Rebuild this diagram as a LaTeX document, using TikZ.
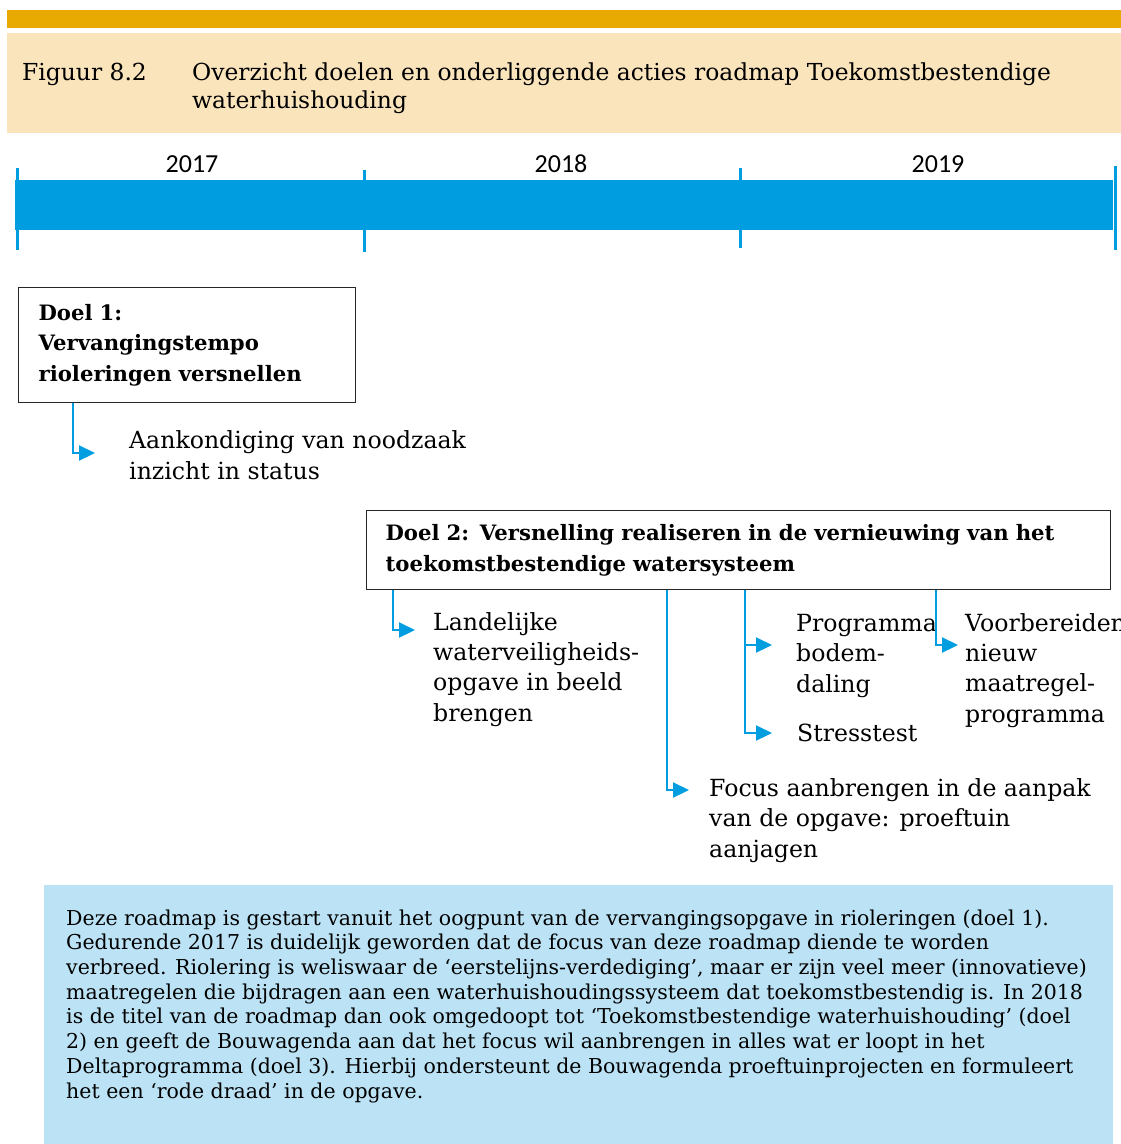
\documentclass[tikz,border=0pt]{standalone}
\usepackage{fontspec}
\setmainfont{DejaVu Serif}
\newfontfamily\yearfont{Carlito}
\usetikzlibrary{arrows.meta}
\definecolor{barorange}{RGB}{232,170,0}
\definecolor{titlebeige}{RGB}{250,228,188}
\definecolor{lineblue}{RGB}{0,158,224}
\definecolor{notebg}{RGB}{188,227,245}
\begin{document}
\begin{tikzpicture}[x=1pt,y=-1pt,
  goalbox/.style={draw=black!85, line width=1.2pt, anchor=north west, align=left,
    inner ysep=0pt, font={\bfseries\fontsize{21.2}{30.5}\selectfont}},
  action/.style={anchor=base west, align=left, inner sep=0pt,
    font={\fontsize{23.6}{30.3}\selectfont}},
  conn/.style={draw=lineblue, line width=2.2pt, -{Triangle[length=16pt,width=15pt]}},
  tick/.style={draw=lineblue, line width=3pt},
  year/.style={anchor=base, inner sep=0pt, font={\yearfont\fontsize{26}{30}\selectfont}}
]
\useasboundingbox (0,0) rectangle (1121,1144);
\clip (0,0) rectangle (1121,1144);

% header
\fill[barorange] (7,10) rectangle (1121,28);
\fill[titlebeige] (7,33) rectangle (1121,133);
\node[anchor=base west, inner sep=0pt, font={\fontsize{23.4}{28}\selectfont}] (fignum) at (22,80) {Figuur 8.2};
\node[anchor=base west, inner sep=0pt, align=left, font={\fontsize{23.4}{28}\selectfont}] (figtitle) at (192,108)
  {Overzicht doelen en onderliggende acties roadmap Toekomstbestendige\\waterhuishouding};

% timeline
\fill[lineblue] (15,180) rectangle (1113,230);
\draw[tick] (17,168) -- (17,250);
\draw[tick] (364,170) -- (364,252);
\draw[tick] (740,168) -- (740,248);
\draw[tick] (1115,166) -- (1115,250);
\node[year] (y2017) at (192,172) {2017};
\node[year] (y2018) at (561,172) {2018};
\node[year] (y2019) at (938,172) {2019};

% goals
\node[goalbox, text width=297pt, inner xsep=20pt, minimum height=115pt] (doel1) at (18,287)
  {Doel 1:\\Vervangingstempo\\rioleringen versnellen};
\node[goalbox, text width=706pt, inner xsep=19pt, minimum height=79pt] (doel2) at (366,510)
  {Doel 2: Versnelling realiseren in de vernieuwing van het\\toekomstbestendige watersysteem};

% actions (placed at the baseline of their last line)
\node[action] (a1) at (129,479) {Aankondiging van noodzaak\\inzicht in status};
\node[action] (a2) at (433,721) {Landelijke\\waterveiligheids-\\opgave in beeld\\brengen};
\node[action] (a3) at (709,857) {Focus aanbrengen in de aanpak\\van de opgave: proeftuin\\aanjagen};
\node[action] (a4) at (796,692) {Programma\\bodem-\\daling};
\node[action] (a5) at (797,741) {Stresstest};
\node[action] (a6) at (965,722) {Voorbereiden\\nieuw\\maatregel-\\programma};

% arrow tips
\coordinate (t1) at (95,453);
\coordinate (t2) at (415,630);
\coordinate (t3) at (689,790);
\coordinate (t4) at (772,645);
\coordinate (t5) at (772,733);
\coordinate (t6) at (958,645);

% connectors
\draw[conn] ([xshift=55pt]doel1.south west) |- (t1);
\draw[conn] ([xshift=27pt]doel2.south west) |- (t2);
\draw[conn] ([xshift=301pt]doel2.south west) |- (t3);
\draw[conn] ([xshift=379pt]doel2.south west) |- (t4);
\draw[conn] ([xshift=379pt]doel2.south west) |- (t5);
\draw[conn] ([xshift=570pt]doel2.south west) |- (t6);

% note
\fill[notebg] (44,885) rectangle (1113,1144);
\node[anchor=base west, align=left, inner sep=0pt, font={\fontsize{20.5}{24.7}\selectfont}] (note) at (66,1098)
  {Deze roadmap is gestart vanuit het oogpunt van de vervangingsopgave in rioleringen (doel 1).\\
   Gedurende 2017 is duidelijk geworden dat de focus van deze roadmap diende te worden\\
   verbreed. Riolering is weliswaar de ‘eerstelijns-verdediging’, maar er zijn veel meer (innovatieve)\\
   maatregelen die bijdragen aan een waterhuishoudingssysteem dat toekomstbestendig is. In 2018\\
   is de titel van de roadmap dan ook omgedoopt tot ‘Toekomstbestendige waterhuishouding’ (doel\\
   2) en geeft de Bouwagenda aan dat het focus wil aanbrengen in alles wat er loopt in het\\
   Deltaprogramma (doel 3). Hierbij ondersteunt de Bouwagenda proeftuinprojecten en formuleert\\
   het een ‘rode draad’ in de opgave.};
\end{tikzpicture}
\end{document}
